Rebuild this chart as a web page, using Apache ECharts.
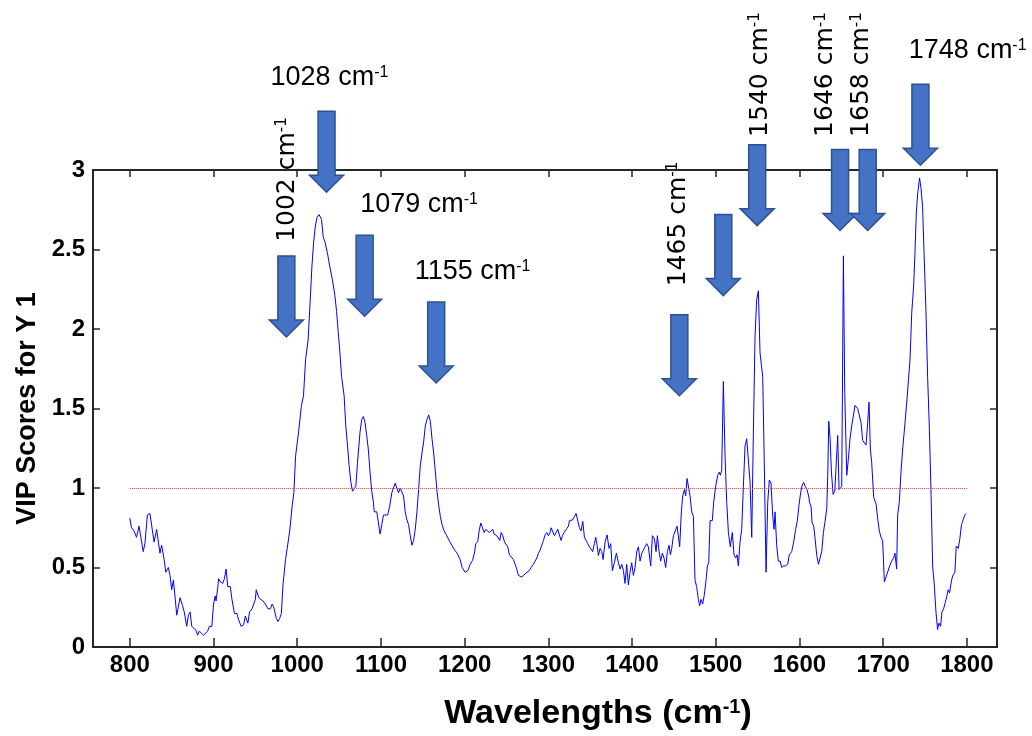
<!DOCTYPE html>
<html>
<head>
<meta charset="utf-8">
<script src="https://cdn.jsdelivr.net/npm/echarts@6/dist/echarts.min.js"></script>
<style>
  html, body { margin: 0; padding: 0; background: #fff; }
  #chart { width: 1032px; height: 736px; }
</style>
</head>
<body>
<div id="chart"></div>
<script>
// VIP scores
const wavelengths = [
  800, 802, 805, 808, 811, 813, 816, 818, 821, 822, 824, 829, 832, 836, 838, 841, 843, 846, 848, 850,
  852, 854, 856, 858, 860, 863, 865, 868, 870, 872, 874, 876, 879, 881, 883, 885, 888, 890, 893, 895,
  898, 900, 902, 903, 905, 906, 908, 911, 913, 915, 917, 920, 922, 925, 928, 930, 933, 936, 938, 941,
  943, 946, 948, 950, 951, 954, 956, 959, 962, 965, 968, 970, 972, 975, 977, 979, 981, 983, 986, 988,
  991, 994, 996, 998, 1002, 1005, 1007.5, 1010, 1013, 1015.5, 1017.5, 1019.5, 1021.5, 1023.5, 1026, 1029, 1031, 1033, 1036, 1039,
  1042, 1045, 1047, 1049, 1051, 1053, 1056, 1058, 1060, 1062, 1064, 1066, 1068, 1070, 1072, 1075, 1077, 1079, 1081, 1083,
  1085, 1087, 1089, 1091, 1092, 1095, 1097, 1099, 1101, 1103, 1105, 1108, 1110.6, 1113, 1115, 1117, 1119, 1121, 1123, 1125,
  1127, 1129, 1131, 1133, 1135, 1137, 1139, 1141, 1143, 1145, 1147, 1149, 1151, 1153, 1155, 1157, 1159, 1161, 1163, 1165,
  1167, 1169, 1171, 1173, 1175.5, 1178.7, 1181.5, 1184.7, 1188, 1191, 1194.6, 1197, 1200.6, 1203.8, 1206.6, 1209.4, 1211.7, 1213.3, 1215.7, 1217.3,
  1219.3, 1221.3, 1223.3, 1225.3, 1227.3, 1229.3, 1231.6, 1233.6, 1235.2, 1236.8, 1238.4, 1240, 1242, 1243.6, 1245.6, 1247.6, 1249.6, 1251.5, 1253.5, 1255.5,
  1258.3, 1260.3, 1262.3, 1264.3, 1266.3, 1268.3, 1270.3, 1272.2, 1274.2, 1277, 1279.4, 1282.2, 1284.2, 1286.2, 1288.2, 1290.2, 1292.1, 1294.1, 1296.1, 1298.1,
  1300.1, 1302.1, 1303.3, 1305.3, 1307.3, 1309.3, 1311.2, 1313.2, 1315.2, 1316.8, 1318.8, 1320, 1322, 1324, 1325.2, 1327.2, 1329.2, 1331.1, 1333.1, 1335.1,
  1337.1, 1339.1, 1341.1, 1343.1, 1345.1, 1347.1, 1349.1, 1351.1, 1353, 1355, 1356.6, 1358.2, 1359.8, 1361.8, 1363.8, 1365.4, 1367.8, 1370.2, 1372.5, 1374.5,
  1376.5, 1378.9, 1381.3, 1383.7, 1385.7, 1387.7, 1389.7, 1391.6, 1393.6, 1395.6, 1397.6, 1399.6, 1401.6, 1403.6, 1405.6, 1407.6, 1409.6, 1411.6, 1413.6, 1415.5,
  1417.5, 1419.5, 1422.3, 1424.3, 1426.7, 1428.7, 1430.3, 1432.3, 1434.2, 1436.2, 1438.2, 1440.2, 1442.2, 1444.2, 1445.8, 1447.4, 1449.4, 1451.4, 1453.8, 1455.4,
  1456.9, 1458.9, 1460.5, 1462.5, 1464.1, 1465.7, 1467.3, 1469.3, 1471.3, 1473.3, 1475.2, 1477.2, 1479.2, 1480.8, 1482.4, 1484.4, 1486.4, 1488.4, 1490, 1491.6,
  1493.2, 1495.9, 1497.5, 1499.9, 1502.3, 1504.3, 1505.5, 1507.1, 1509.1, 1511.1, 1513.1, 1515.1, 1517.4, 1519.8, 1521.8, 1523.8, 1525.4, 1527, 1529, 1531,
  1533, 1535, 1537, 1539, 1541, 1543, 1544.9, 1546.9, 1548.9, 1550.9, 1552.9, 1556.1, 1558.1, 1560.1, 1562.1, 1564, 1566, 1568, 1569.6, 1570.8,
  1572.8, 1574.7, 1577.1, 1578.7, 1581.1, 1583.5, 1585.9, 1587.9, 1590.7, 1593.1, 1595.4, 1597.4, 1599.4, 1601.4, 1603.4, 1605, 1607, 1609, 1611, 1612,
  1614, 1615, 1617, 1618.7, 1620.7, 1622.7, 1624.7, 1626.6, 1628.6, 1630.6, 1632.6, 1633.8, 1635, 1636.6, 1638.2, 1640.2, 1642.2, 1644.2, 1645.7, 1647.3,
  1648.9, 1650.5, 1652.5, 1654.1, 1656.5, 1658.4, 1660.4, 1662.4, 1664.4, 1666.4, 1668, 1669.6, 1671.6, 1673.6, 1675.5, 1677.5, 1679.5, 1681.5, 1683.1, 1684.7,
  1686.3, 1688.7, 1691.5, 1693.4, 1695.4, 1697.4, 1699.4, 1701.4, 1703.4, 1705.4, 1707.8, 1710.1, 1712.5, 1714.1, 1716.1, 1717.3, 1719.3, 1721.3, 1723.3, 1724.5,
  1726.1, 1728.5, 1730.5, 1732.1, 1734.1, 1736.4, 1738, 1739.6, 1741.2, 1743.5, 1745.1, 1747.1, 1749.1, 1751.1, 1753.1, 1755.1, 1757.1, 1759.1, 1761.1, 1763.1,
  1765, 1766.6, 1768.6, 1770.2, 1772.2, 1774.2, 1776.1, 1777.7, 1779.3, 1781.7, 1783.3, 1785.7, 1787.3, 1789.7, 1791.6, 1793.6, 1795.6, 1797.6, 1799
];
const vipScores = [
  0.81, 0.75, 0.73, 0.69, 0.76, 0.77, 0.60, 0.65, 0.83, 0.83, 0.84, 0.66, 0.74, 0.59, 0.64, 0.55, 0.47, 0.50, 0.45, 0.36,
  0.42, 0.32, 0.20, 0.21, 0.31, 0.26, 0.22, 0.13, 0.20, 0.22, 0.13, 0.14, 0.105, 0.074, 0.10, 0.095, 0.074, 0.078, 0.10, 0.13,
  0.13, 0.27, 0.32, 0.29, 0.37, 0.43, 0.41, 0.40, 0.43, 0.49, 0.38, 0.38, 0.30, 0.21, 0.21, 0.17, 0.13, 0.14, 0.195, 0.15,
  0.22, 0.24, 0.23, 0.30, 0.36, 0.31, 0.31, 0.29, 0.27, 0.24, 0.24, 0.27, 0.25, 0.18, 0.16, 0.18, 0.21, 0.39, 0.55, 0.62,
  0.73, 0.89, 0.97, 1.20, 1.37, 1.52, 1.58, 1.81, 1.93, 2.18, 2.39, 2.54, 2.64, 2.70, 2.72, 2.69, 2.58, 2.55, 2.48, 2.39,
  2.31, 2.21, 2.11, 1.98, 1.85, 1.70, 1.58, 1.39, 1.27, 1.14, 1.04, 0.98, 0.97, 1.01, 1.16, 1.35, 1.43, 1.45, 1.41, 1.33,
  1.24, 1.10, 0.98, 0.91, 0.85, 0.85, 0.78, 0.71, 0.77, 0.83, 0.83, 0.83, 0.89, 0.97, 0.98, 1.03, 1.03, 0.97, 1.00, 1.01,
  0.95, 0.85, 0.80, 0.77, 0.70, 0.64, 0.67, 0.74, 0.85, 0.99, 1.14, 1.22, 1.29, 1.39, 1.43, 1.46, 1.42, 1.31, 1.22, 1.10,
  0.98, 0.89, 0.82, 0.77, 0.73, 0.70, 0.67, 0.64, 0.61, 0.59, 0.55, 0.50, 0.47, 0.48, 0.52, 0.545, 0.59, 0.65, 0.665, 0.73,
  0.78, 0.75, 0.72, 0.74, 0.73, 0.72, 0.73, 0.74, 0.71, 0.72, 0.70, 0.71, 0.67, 0.72, 0.70, 0.66, 0.67, 0.63, 0.58, 0.57,
  0.55, 0.52, 0.49, 0.45, 0.44, 0.44, 0.45, 0.46, 0.47, 0.48, 0.50, 0.52, 0.54, 0.56, 0.59, 0.61, 0.62, 0.67, 0.705, 0.72,
  0.70, 0.72, 0.75, 0.74, 0.70, 0.72, 0.74, 0.74, 0.67, 0.70, 0.72, 0.73, 0.745, 0.76, 0.795, 0.79, 0.80, 0.82, 0.84, 0.83,
  0.75, 0.73, 0.79, 0.69, 0.685, 0.65, 0.63, 0.62, 0.60, 0.65, 0.69, 0.64, 0.575, 0.62, 0.60, 0.55, 0.66, 0.705, 0.62, 0.65,
  0.48, 0.53, 0.59, 0.53, 0.49, 0.52, 0.48, 0.40, 0.52, 0.39, 0.47, 0.53, 0.45, 0.50, 0.60, 0.63, 0.54, 0.59, 0.61, 0.60,
  0.65, 0.63, 0.51, 0.70, 0.68, 0.60, 0.70, 0.60, 0.54, 0.59, 0.56, 0.50, 0.60, 0.64, 0.58, 0.62, 0.70, 0.70, 0.76, 0.76,
  0.63, 0.85, 0.95, 0.99, 0.95, 1.06, 1.06, 0.95, 0.85, 0.82, 0.42, 0.38, 0.30, 0.26, 0.30, 0.27, 0.33, 0.42, 0.51, 0.53,
  0.795, 0.795, 0.91, 1.01, 1.08, 1.10, 1.08, 1.11, 1.67, 1.20, 0.91, 0.72, 0.63, 0.72, 0.58, 0.56, 0.58, 0.51, 0.66, 0.74,
  1.01, 1.265, 1.31, 1.32, 1.035, 0.69, 1.33, 1.95, 2.185, 2.24, 1.85, 1.70, 1.12, 0.47, 0.91, 1.05, 1.03, 0.83, 0.74, 0.85,
  0.64, 0.54, 0.54, 0.50, 0.51, 0.51, 0.52, 0.58, 0.60, 0.66, 0.74, 0.79, 0.89, 0.97, 1.02, 1.035, 1.01, 0.99, 0.95, 0.91,
  0.88, 0.785, 0.76, 0.68, 0.575, 0.52, 0.52, 0.60, 0.72, 0.79, 0.87, 1.08, 1.42, 1.31, 1.10, 0.96, 0.98, 0.99, 1.33, 0.99,
  1.00, 1.01, 2.46, 1.60, 1.08, 1.18, 1.31, 1.39, 1.40, 1.52, 1.53, 1.50, 1.49, 1.41, 1.30, 1.29, 1.27, 1.41, 1.54, 1.245,
  1.16, 0.94, 0.90, 0.81, 0.73, 0.69, 0.67, 0.41, 0.44, 0.45, 0.51, 0.54, 0.56, 0.59, 0.49, 0.83, 0.91, 1.10, 1.245, 1.25,
  1.41, 1.56, 1.57, 1.81, 2.10, 2.27, 2.48, 2.73, 2.85, 2.95, 2.89, 2.77, 2.44, 2.12, 1.70, 1.39, 0.99, 0.51, 0.39, 0.22,
  0.11, 0.15, 0.13, 0.22, 0.24, 0.28, 0.32, 0.36, 0.34, 0.42, 0.45, 0.47, 0.635, 0.62, 0.68, 0.77, 0.80, 0.83, 0.84
];
const xTicks = [800, 900, 1000, 1100, 1200, 1300, 1400, 1500, 1600, 1700, 1800];
const threshold = 1;

// arrow tips (wavelength, score) and peak labels (text, wavelength, score, rotated)
const arrowTips = [
  [987, 1.95], [1035, 2.86], [1080.5, 2.08], [1166, 1.66], [1456.5, 1.58],
  [1509, 2.21], [1549.5, 2.65], [1648.5, 2.62], [1681.5, 2.62], [1744.5, 3.03]
];
const peakLabels = [
  ['1028', 1038.5, 3.58, false],
  ['1079', 1145.5, 2.78, false],
  ['1155', 1209.5, 2.36, false],
  ['1748', 1801, 3.75, false],
  ['1002', 988, 2.94, true],
  ['1465', 1455, 2.66, true],
  ['1540', 1553, 3.6, true],
  ['1646', 1631.5, 3.6, true],
  ['1658', 1674.5, 3.6, true]
];

const chart = echarts.init(document.getElementById('chart'));
const axisColor = '#262626';

const option = {
    animation: false,
    backgroundColor: '#fff',
    grid: {left: 93, right: 35, top: 170, bottom: 88},
    xAxis: [
        {
            type: 'value',
            min: 756,
            max: 1836,
            position: 'bottom',
            name: '{n|Wavelengths (cm}{s|-1}{n|)}',
            nameLocation: 'middle',
            nameGap: 50,
            nameTextStyle: {
                padding: [0, 0, 0, 106],
                rich: {
                    n: {fontFamily: 'Liberation Sans', fontWeight: 'bold', fontSize: 34, color: '#000'},
                    s: {fontFamily: 'Liberation Sans', fontWeight: 'bold', fontSize: 20, color: '#000', verticalAlign: 'top'}
                }
            },
            axisLine: {show: true, onZero: false, lineStyle: {color: axisColor, width: 2}},
            axisTick: {show: true, inside: true, length: 9, customValues: xTicks, lineStyle: {color: axisColor, width: 1.5}},
            axisLabel: {
                customValues: xTicks,
                formatter: function (v) { return String(v); },
                margin: 6,
                fontFamily: 'Liberation Sans',
                fontWeight: 'bold',
                fontSize: 24,
                color: '#000'
            },
            splitLine: {show: false}
        },
        {
            type: 'value',
            min: 756,
            max: 1836,
            position: 'top',
            axisLine: {show: true, onZero: false, lineStyle: {color: axisColor, width: 2}},
            axisTick: {show: true, inside: true, length: 7, customValues: xTicks, lineStyle: {color: axisColor, width: 1.5}},
            axisLabel: {show: false},
            splitLine: {show: false}
        }
    ],
    yAxis: [
        {
            type: 'value',
            min: 0,
            max: 3,
            interval: 0.5,
            position: 'left',
            name: 'VIP Scores for Y 1',
            nameLocation: 'middle',
            nameGap: 50,
            nameTextStyle: {fontFamily: 'Liberation Sans', fontWeight: 'bold', fontSize: 27, color: '#000'},
            axisLine: {show: true, lineStyle: {color: axisColor, width: 2}},
            axisTick: {show: true, inside: true, length: 7, lineStyle: {color: axisColor, width: 1.5}},
            axisLabel: {margin: 8, fontFamily: 'Liberation Sans', fontWeight: 'bold', fontSize: 24, color: '#000'},
            splitLine: {show: false}
        },
        {
            type: 'value',
            min: 0,
            max: 3,
            interval: 0.5,
            position: 'right',
            axisLine: {show: true, lineStyle: {color: axisColor, width: 2}},
            axisTick: {show: true, inside: true, length: 7, lineStyle: {color: axisColor, width: 1.5}},
            axisLabel: {show: false},
            splitLine: {show: false}
        }
    ],
    series: [
        {
            name: 'VIP',
            type: 'line',
            data: wavelengths.map((w, i) => [w, vipScores[i]]),
            showSymbol: false,
            symbol: 'none',
            lineStyle: {color: '#0000ff', width: 1},
            z: 3,
            markLine: {
                silent: true,
                symbol: 'none',
                label: {show: false},
                lineStyle: {color: '#ff3b3b', type: 'dotted', width: 1},
                data: [[{coord: [xTicks[0], threshold]}, {coord: [xTicks[xTicks.length - 1], threshold]}]]
            }
        }
    ]
};

chart.setOption(option);

// arrows and labels are placed through the axes
const graphics = [];
arrowTips.forEach(function (t) {
    const p = chart.convertToPixel({xAxisIndex: 0, yAxisIndex: 0}, t);
    const x = p[0], y = p[1];
    graphics.push({
        type: 'polygon',
        shape: {points: [
            [x - 8.5, y - 81], [x + 8.5, y - 81], [x + 8.5, y - 17], [x + 17, y - 17],
            [x, y], [x - 17, y - 17], [x - 8.5, y - 17]
        ]},
        style: {fill: '#4472C4', stroke: '#2F528F', lineWidth: 1.5},
        z: 10
    });
});
peakLabels.forEach(function (l) {
    const p = chart.convertToPixel({xAxisIndex: 0, yAxisIndex: 0}, [l[1], l[2]]);
    const fam = l[3] ? 'DejaVu Sans' : 'Liberation Sans';
    const size = l[3] ? 25 : 27;
    graphics.push({
        type: 'text',
        x: p[0],
        y: p[1],
        rotation: l[3] ? Math.PI / 2 : 0,
        style: {
            text: '{n|' + l[0] + ' cm}{s|-1}',
            align: 'center',
            verticalAlign: 'middle',
            rich: {
                n: {fontFamily: fam, fontSize: size, fill: '#000'},
                s: {fontFamily: fam, fontSize: Math.round(size * 0.6), fill: '#000', verticalAlign: 'top'}
            }
        },
        z: 10
    });
});
chart.setOption({graphic: graphics});

window.addEventListener('resize', function () {
    chart.resize();
});
</script>
</body>
</html>
